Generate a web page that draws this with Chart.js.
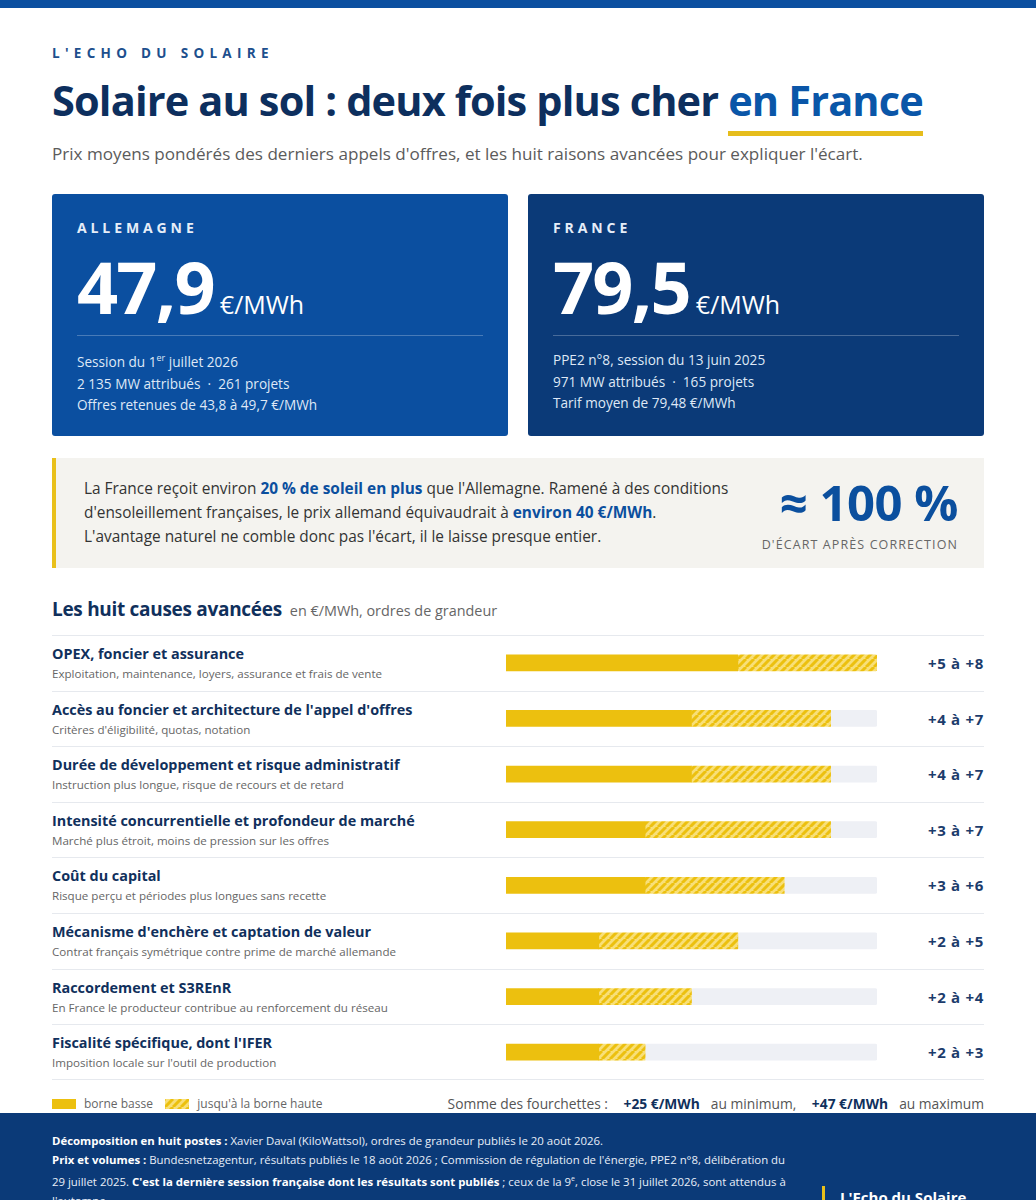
<!DOCTYPE html>
<html lang="fr">
<head>
<meta charset="utf-8">
<script src="https://cdn.jsdelivr.net/npm/chart.js@4.4.1/dist/chart.umd.min.js"></script>
<style>
  html,body{margin:0;padding:0;}
  body{width:1036px;height:1200px;overflow:hidden;background:#fff;font-family:"Open Sans",sans-serif;position:relative;color:#10305c;}
  .abs{position:absolute;white-space:nowrap;}
  .topbar{left:0;top:0;width:1036px;height:8px;background:#0b4fa0;}
  .kicker{left:52px;top:44px;font-size:13.5px;font-weight:700;letter-spacing:5.3px;line-height:18px;color:#1d4f8d;}
  .title{left:52px;top:74px;font-size:41.5px;font-weight:700;line-height:52px;color:#0d2f5e;letter-spacing:-0.85px;}
  .title .hl{color:#0a56a8;position:relative;display:inline-block;}
  .title .hl::after{content:"";position:absolute;left:0;right:0;top:57px;height:5px;background:#e6bd1c;}
  .sub{left:52px;top:141px;font-size:17.1px;line-height:26px;color:#5b5b5b;}
  .card{top:194px;width:456px;height:242px;border-radius:3px;color:#fff;}
  .card .lab{position:absolute;left:25px;top:24px;font-size:14px;font-weight:700;letter-spacing:3.9px;line-height:20px;color:#e6edf8;}
  .card .big{position:absolute;left:25px;top:52px;line-height:80px;white-space:nowrap;}
  .card .big b{font-size:72px;font-weight:700;letter-spacing:-1.8px;}
  .card .big span{font-size:25px;font-weight:400;margin-left:6px;}
  .card .div{position:absolute;left:25px;right:25px;top:141px;height:1px;background:rgba(255,255,255,0.25);}
  .card .det{position:absolute;left:25px;font-size:13.6px;line-height:21.5px;color:#dfe8f6;white-space:nowrap;}
  .card .det sup{font-size:9px;line-height:0;}
  .callout{left:52px;top:458px;width:928px;height:110px;background:#f4f3ef;border-left:4px solid #e9c01b;}
  .callout .txt{position:absolute;left:28px;top:19px;font-size:15.4px;line-height:24px;color:#333;white-space:nowrap;}
  .callout .txt b{color:#0b4f9e;}
  .callout .pct{position:absolute;right:26px;top:19px;font-size:49px;font-weight:700;line-height:50px;color:#0b4f9e;letter-spacing:-0.5px;}
  .callout .pctl{position:absolute;right:26px;top:78px;font-size:12.5px;line-height:18px;letter-spacing:1.1px;color:#666;}
  .sect{left:52px;top:596px;line-height:26px;}
  .sect b{font-size:19px;font-weight:700;color:#10305c;letter-spacing:-0.3px;}
  .sect span{font-size:14.4px;color:#666;margin-left:8px;}
  #rows{position:absolute;left:52px;top:635px;width:932px;}
  .row{position:relative;height:55.6px;border-top:1px solid #e6e9ee;box-sizing:border-box;}
  .row:last-child{border-bottom:1px solid #e6e9ee;}
  .row .t{position:absolute;left:0;top:8px;font-size:14.4px;font-weight:700;line-height:20px;color:#10305c;white-space:nowrap;}
  .row .s{position:absolute;left:0;top:29px;font-size:11.6px;line-height:17px;color:#666;white-space:nowrap;}
  .row .v{position:absolute;right:0;top:17px;font-size:15px;font-weight:700;line-height:20px;color:#1c3c6c;white-space:nowrap;letter-spacing:0.7px;}
  #chartBox{position:absolute;left:506px;top:635px;width:371px;height:445px;}
  .legend{left:52px;top:1095px;font-size:12px;line-height:18px;color:#666;}
  .sw{display:inline-block;width:24px;height:10px;vertical-align:-1px;margin-right:8px;}
  .sum{right:52px;top:1095px;font-size:13.8px;line-height:18px;color:#555;}
  .sum b{color:#10305c;margin:0 11px 0 12px;}
  .footer{left:0;top:1113px;width:1036px;height:87px;background:#0b3a78;}
  .footer .ft{position:absolute;left:52px;top:18px;font-size:11.4px;line-height:19px;color:#e8eef8;white-space:nowrap;}
  .footer .ft b{color:#fff;}
  .footer .brand{position:absolute;left:822px;top:73px;border-left:3px solid #e9c01b;padding-left:15px;font-size:15px;font-weight:700;color:#fff;line-height:22px;}
</style>
</head>
<body>
<div class="abs topbar"></div>
<div class="abs kicker">L'ECHO DU SOLAIRE</div>
<div class="abs title">Solaire au sol : deux fois plus cher <span class="hl">en France</span></div>
<div class="abs sub">Prix moyens pondérés des derniers appels d'offres, et les huit raisons avancées pour expliquer l'écart.</div>

<div class="abs card" style="left:52px;background:#0b4fa0;">
  <div class="lab">ALLEMAGNE</div>
  <div class="big"><b>47,9</b><span>€/MWh</span></div>
  <div class="div"></div>
  <div class="det" style="top:157px;">Session du 1<sup>er</sup> juillet 2026<br>2 135 MW attribués &nbsp;·&nbsp; 261 projets<br>Offres retenues de 43,8 à 49,7 €/MWh</div>
</div>
<div class="abs card" style="left:528px;background:#0b3a78;">
  <div class="lab">FRANCE</div>
  <div class="big"><b>79,5</b><span>€/MWh</span></div>
  <div class="div"></div>
  <div class="det" style="top:155px;">PPE2 n°8, session du 13 juin 2025<br>971 MW attribués &nbsp;·&nbsp; 165 projets<br>Tarif moyen de 79,48 €/MWh</div>
</div>

<div class="abs callout">
  <div class="txt">La France reçoit environ <b>20 % de soleil en plus</b> que l'Allemagne. Ramené à des conditions<br>d'ensoleillement françaises, le prix allemand équivaudrait à <b>environ 40 €/MWh</b>.<br>L'avantage naturel ne comble donc pas l'écart, il le laisse presque entier.</div>
  <div class="pct">≈ 100 %</div>
  <div class="pctl">D'ÉCART APRÈS CORRECTION</div>
</div>

<div class="abs sect"><b>Les huit causes avancées</b><span>en €/MWh, ordres de grandeur</span></div>

<div id="rows"></div>
<div id="chartBox"><canvas id="c"></canvas></div>

<div class="abs legend"><span class="sw" style="background:#ecc00f"></span>borne basse &nbsp;&nbsp;&nbsp;<span class="sw" id="hatchSw"></span>jusqu'à la borne haute</div>
<div class="abs sum" id="sum"></div>

<div class="abs footer">
  <div class="ft"><b>Décomposition en huit postes :</b> Xavier Daval (KiloWattsol), ordres de grandeur publiés le 20 août 2026.<br><b>Prix et volumes :</b> Bundesnetzagentur, résultats publiés le 18 août 2026 ; Commission de régulation de l'énergie, PPE2 n°8, délibération du<br>29 juillet 2025. <b>C'est la dernière session française dont les résultats sont publiés</b> ; ceux de la 9<sup style="font-size:7px">e</sup>, close le 31 juillet 2026, sont attendus à<br>l'automne.</div>
  <div class="brand">L'Echo du Solaire</div>
</div>

<script>
const causes = [
  "OPEX, foncier et assurance",
  "Accès au foncier et architecture de l'appel d'offres",
  "Durée de développement et risque administratif",
  "Intensité concurrentielle et profondeur de marché",
  "Coût du capital",
  "Mécanisme d'enchère et captation de valeur",
  "Raccordement et S3REnR",
  "Fiscalité spécifique, dont l'IFER"
];
const details = [
  "Exploitation, maintenance, loyers, assurance et frais de vente",
  "Critères d'éligibilité, quotas, notation",
  "Instruction plus longue, risque de recours et de retard",
  "Marché plus étroit, moins de pression sur les offres",
  "Risque perçu et périodes plus longues sans recette",
  "Contrat français symétrique contre prime de marché allemande",
  "En France le producteur contribue au renforcement du réseau",
  "Imposition locale sur l'outil de production"
];
const lowValues  = [5, 4, 4, 3, 3, 2, 2, 2];
const highValues = [8, 7, 7, 7, 6, 5, 4, 3];
const scaleMax = 8;

// rows (text)
const rowsEl = document.getElementById('rows');
causes.forEach((c, i) => {
  const r = document.createElement('div');
  r.className = 'row';
  r.innerHTML = '<div class="t"></div><div class="s"></div><div class="v"></div>';
  r.querySelector('.t').textContent = c;
  r.querySelector('.s').textContent = details[i];
  r.querySelector('.v').textContent = '+' + lowValues[i] + ' à +' + highValues[i];
  rowsEl.appendChild(r);
});
const sumLow = lowValues.reduce((a, b) => a + b, 0);
const sumHigh = highValues.reduce((a, b) => a + b, 0);
document.getElementById('sum').innerHTML = 'Somme des fourchettes : <b>+' + sumLow + ' €/MWh</b>au minimum, <b>+' + sumHigh + ' €/MWh</b>au maximum';

// hatch pattern
function makeHatch() {
  const p = document.createElement('canvas');
  p.width = 8; p.height = 8;
  const g = p.getContext('2d');
  g.fillStyle = '#f8df78';
  g.fillRect(0, 0, 8, 8);
  g.strokeStyle = '#ecc00f';
  g.lineWidth = 3;
  g.beginPath();
  for (let k = -8; k <= 16; k += 8) {
    g.moveTo(k, 8); g.lineTo(k + 8, 0);
  }
  g.stroke();
  return p;
}
const hatchCanvas = makeHatch();
const ctx = document.getElementById('c').getContext('2d');
const hatch = ctx.createPattern(hatchCanvas, 'repeat');
const sw = document.getElementById('hatchSw');
sw.style.backgroundImage = 'url(' + hatchCanvas.toDataURL() + ')';

new Chart(ctx, {
  type: 'bar',
  data: {
    labels: causes,
    datasets: [
      { label: 'borne basse', data: lowValues, backgroundColor: '#ecc00f' },
      { label: "jusqu'à la borne haute", data: highValues.map((h, i) => h - lowValues[i]), backgroundColor: hatch },
      { label: 'reste', data: highValues.map(h => scaleMax - h), backgroundColor: '#eef0f5' }
    ]
  },
  options: {
    indexAxis: 'y',
    responsive: true,
    maintainAspectRatio: false,
    animation: false,
    layout: { padding: 0 },
    datasets: { bar: { barThickness: 16, borderRadius: 2, borderSkipped: false, stack: 's' } },
    scales: {
      x: { stacked: true, min: 0, max: scaleMax, display: false },
      y: { stacked: true, display: false }
    },
    plugins: { legend: { display: false }, tooltip: { enabled: false } }
  }
});
</script>
</body>
</html>
